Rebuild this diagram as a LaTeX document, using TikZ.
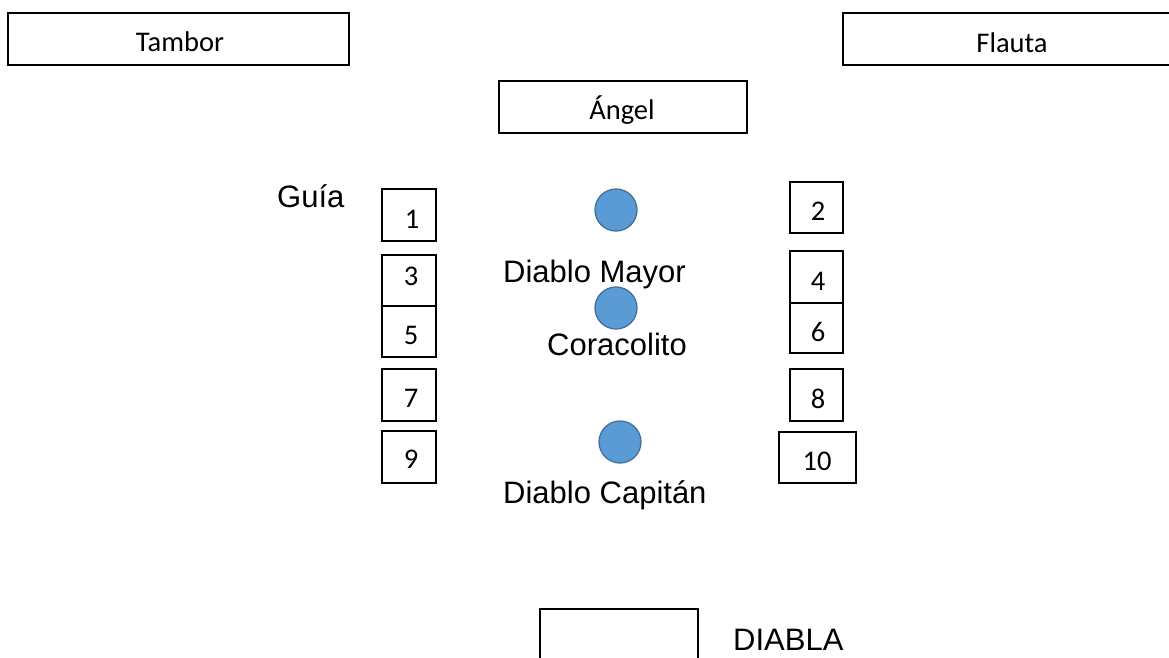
\documentclass[tikz,border=0pt]{standalone}
\usepackage{fontspec}
\setmainfont{Liberation Sans}
\newfontfamily\calib{Carlito}
\definecolor{dotfill}{HTML}{5B9BD5}
\definecolor{dotline}{HTML}{41719C}
\begin{document}
\begin{tikzpicture}[x=1pt,y=-1pt,
  frame/.style={draw=black,line width=1.6pt,fill=none,inner sep=0pt},
  cal/.style={font=\calib\fontsize{28.5}{30}\selectfont,inner sep=0pt,anchor=base},
  ari/.style={font=\fontsize{31}{34}\selectfont,inner sep=0pt,anchor=base west},
  dot/.style={circle,fill=dotfill,draw=dotline,line width=1.3pt,minimum size=42pt,inner sep=0pt}]
\useasboundingbox (0,0) rectangle (1169,658);
% top boxes
\node[frame,minimum width=341pt,minimum height=52pt] (tambor) at (178.5,39) {};
\node[cal] (tamborT) at (180,52) {Tambor};
\node[frame,minimum width=330pt,minimum height=52pt] (flauta) at (1008,39) {};
\node[cal] (flautaT) at (1012,53) {Flauta};
\node[frame,minimum width=248pt,minimum height=52pt] (angel) at (623,107) {};
\begin{scope}
\clip (499,81) rectangle (747,123.5);
\node[cal] (angelT) at (622,120) {Ángel};
\end{scope}
% left column
\node[frame,minimum width=54pt,minimum height=52pt] (b1) at (409,215) {};
\node[frame,minimum width=54pt,minimum height=51pt] (b3) at (409,280.5) {};
\node[frame,minimum width=54pt,minimum height=51pt] (b5) at (409,331.5) {};
\node[frame,minimum width=54pt,minimum height=52pt] (b7) at (409,395) {};
\node[frame,minimum width=54pt,minimum height=52pt] (b9) at (409,457) {};
\node[cal] (t1) at (412,228) {1};
\node[cal] (t3) at (411,285) {3};
\node[cal] (t5) at (411,344) {5};
\node[cal] (t7) at (411,407) {7};
\node[cal] (t9) at (411,468) {9};
% right column
\node[frame,minimum width=53pt,minimum height=51pt] (b2) at (816.5,207.5) {};
\node[frame,minimum width=53pt,minimum height=52pt] (b4) at (816.5,277) {};
\node[frame,minimum width=53pt,minimum height=50pt] (b6) at (816.5,328) {};
\node[frame,minimum width=53pt,minimum height=52pt] (b8) at (816.5,395) {};
\node[frame,minimum width=77pt,minimum height=51pt] (b10) at (817.5,457.5) {};
\node[cal] (t2) at (818,220) {2};
\node[cal] (t4) at (818,290) {4};
\node[cal] (t6) at (818,341) {6};
\node[cal] (t8) at (818,408) {8};
\node[cal] (t10) at (817,470) {10};
% guide
\node[ari] (guia) at (277,207) {Guía};
% devils
\node[dot] (d1) at (616,210) {};
\node[dot] (d2) at (616,308) {};
\node[dot] (d3) at (620,442) {};
\node[ari] (mayor) at (503,282) {Diablo Mayor};
\node[ari] (cora) at (547,355) {Coracolito};
\node[ari] (capitan) at (503,503) {Diablo Capitán};
% diabla
\node[frame,minimum width=158pt,minimum height=70pt] (diablabox) at (619,644) {};
\node[ari] (diabla) at (733,650) {DIABLA};
\end{tikzpicture}
\end{document}
